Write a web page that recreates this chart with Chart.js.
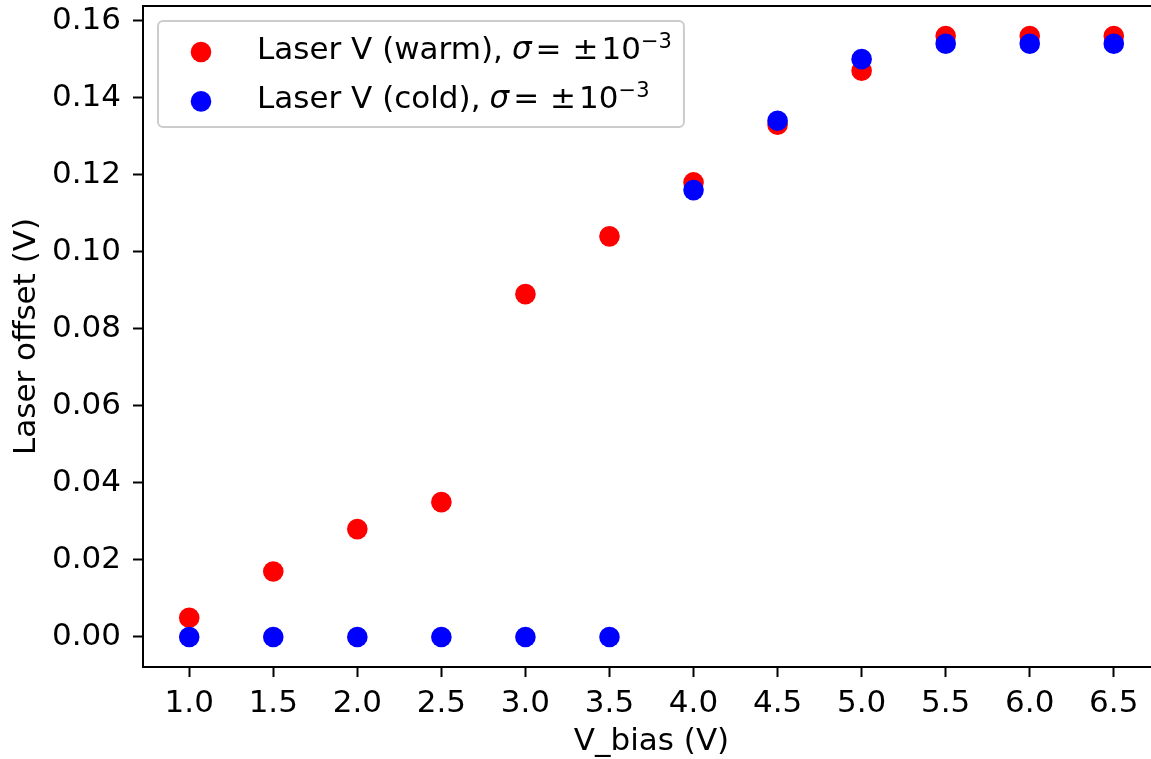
<!DOCTYPE html>
<html>
<head>
<meta charset="utf-8">
<script src="https://cdn.jsdelivr.net/npm/chart.js@4.4.1/dist/chart.umd.min.js"></script>
<style>
  html, body { margin: 0; padding: 0; background: #fff; overflow: hidden; }
  #wrap { position: relative; width: 1151px; height: 759px; overflow: hidden; }
  #chart { position: absolute; left: 0; top: 0; }
</style>
</head>
<body>
<div id="wrap"><canvas id="chart" width="1162" height="759"></canvas></div>
<script>
// Laser offset vs bias voltage, warm and cold runs
const biasVoltages = [1.0, 1.5, 2.0, 2.5, 3.0, 3.5, 4.0, 4.5, 5.0, 5.5, 6.0, 6.5];
const warmOffsets = [0.005, 0.017, 0.028, 0.035, 0.089, 0.104, 0.118, 0.133, 0.147, 0.156, 0.156, 0.156];
const coldOffsets = [0.000, 0.000, 0.000, 0.000, 0.000, 0.000, 0.116, 0.134, 0.150, 0.154, 0.154, 0.154];

const seriesLabels = ["Laser V (warm)", "Laser V (cold)"];
const seriesColors = ["#ff0000", "#0000ff"];
const sigmaExponent = "\u22123";

const xTicks = [1.0, 1.5, 2.0, 2.5, 3.0, 3.5, 4.0, 4.5, 5.0, 5.5, 6.0, 6.5];
const yTicks = [0.00, 0.02, 0.04, 0.06, 0.08, 0.10, 0.12, 0.14, 0.16];

const FONT = "DejaVu Sans";
const FONT_SIZE = 31;

// 5% margin around the data, like matplotlib's autoscale
function paddedRange(values) {
    const lo = Math.min(...values);
    const hi = Math.max(...values);
    const m = (hi - lo) * 0.05;
    return [lo - m, hi + m];
}
const [xMin, xMax] = paddedRange(biasVoltages);
const [yMin, yMax] = paddedRange(warmOffsets.concat(coldOffsets));

const toPoints = (ys) => biasVoltages.map((x, i) => ({ x, y: ys[i] }));

// labels sit well inside the range, so no extra room is needed at the ends
function clearPadding(scale) {
    scale.paddingTop = 0;
    scale.paddingBottom = 0;
    scale.paddingLeft = 0;
    scale.paddingRight = 0;
}

// top/right spines
const frame = {
    id: "frame",
    afterDatasetsDraw(chart) {
        const { ctx, chartArea: a } = chart;
        ctx.save();
        ctx.strokeStyle = "#000";
        ctx.lineWidth = 2;
        ctx.beginPath();
        ctx.moveTo(a.left, a.top);
        ctx.lineTo(a.right, a.top);
        ctx.lineTo(a.right, a.bottom);
        ctx.stroke();
        ctx.restore();
    }
};

// legend box with the sigma annotation
const sigmaLegend = {
    id: "sigmaLegend",
    afterDraw(chart) {
        const { ctx, chartArea: a } = chart;
        const left = a.left + 15;
        const top = a.top + 15;
        const rowGap = 49.4;
        const textX = left + 99;
        const normal = `${FONT_SIZE}px "${FONT}"`;
        const italic = `italic ${FONT_SIZE}px "${FONT}"`;
        const small = `${Math.round(FONT_SIZE * 0.67)}px "${FONT}"`;

        ctx.save();
        // lay out each row's pieces, then size the box to the widest
        const rows = seriesLabels.map((label) => {
            const parts = [];
            let x = 0;
            const add = (text, font, dy, gap) => {
                ctx.font = font;
                x += gap || 0;
                parts.push({ text, font, x, dy });
                x += ctx.measureText(text).width;
            };
            add(label + ",", normal, 0);
            add("\u03c3", italic, 0, 9);
            add("=", normal, 0, 4);
            add("\u00b1", normal, 0, 11);
            add("10", normal, 0, 3);
            add(sigmaExponent, small, -11, 0);
            return { parts, width: x };
        });
        const width = 99 + Math.max(...rows.map((r) => r.width)) + 12;
        const height = 106;

        ctx.beginPath();
        ctx.roundRect(left, top, width, height, 5);
        ctx.fillStyle = "rgba(255,255,255,0.8)";
        ctx.fill();
        ctx.strokeStyle = "#cccccc";
        ctx.lineWidth = 2;
        ctx.stroke();

        chart.data.datasets.forEach((ds, i) => {
            const cy = top + 31 + i * rowGap;
            ctx.beginPath();
            ctx.arc(left + 43, cy, 10.3, 0, Math.PI * 2);
            ctx.fillStyle = ds.backgroundColor;
            ctx.fill();

            ctx.fillStyle = "#000";
            ctx.textBaseline = "alphabetic";
            rows[i].parts.forEach((p) => {
                ctx.font = p.font;
                ctx.fillText(p.text, textX + p.x, cy + 7 + p.dy);
            });
        });
        ctx.restore();
    }
};

const tickFont = { family: FONT, size: FONT_SIZE };

new Chart(document.getElementById("chart"), {
    type: "scatter",
    data: {
        datasets: [
            {
                label: seriesLabels[0],
                data: toPoints(warmOffsets),
                backgroundColor: seriesColors[0],
                borderWidth: 0,
                pointRadius: 10.3,
                order: 1
            },
            {
                label: seriesLabels[1],
                data: toPoints(coldOffsets),
                backgroundColor: seriesColors[1],
                borderWidth: 0,
                pointRadius: 10.3,
                order: 0
            }
        ]
    },
    options: {
        responsive: false,
        animation: false,
        devicePixelRatio: 1,
        layout: { autoPadding: false, padding: { top: 6, right: 2, left: 0, bottom: 0 } },
        plugins: {
            legend: { display: false },
            tooltip: { enabled: false }
        },
        scales: {
            x: {
                type: "linear",
                min: xMin,
                max: xMax,
                afterBuildTicks: (scale) => { scale.ticks = xTicks.map((value) => ({ value })); },
                afterFit: (scale) => { scale.height = 92; clearPadding(scale); },
                ticks: {
                    font: tickFont,
                    color: "#000",
                    padding: 8,
                    maxRotation: 0,
                    autoSkip: false,
                    callback: (value) => Number(value).toFixed(1)
                },
                grid: {
                    drawOnChartArea: false,
                    drawTicks: true,
                    tickLength: 10,
                    tickWidth: 2,
                    tickColor: "#000"
                },
                border: { display: true, color: "#000", width: 2 },
                title: {
                    display: true,
                    text: "V_bias (V)",
                    font: tickFont,
                    color: "#000",
                    padding: { top: 0, bottom: -2 }
                }
            },
            y: {
                type: "linear",
                min: yMin,
                max: yMax,
                afterBuildTicks: (scale) => { scale.ticks = yTicks.map((value) => ({ value })); },
                afterFit: (scale) => { scale.width = 143; clearPadding(scale); },
                ticks: {
                    font: tickFont,
                    color: "#000",
                    padding: 12,
                    autoSkip: false,
                    callback: (value) => Number(value).toFixed(2)
                },
                grid: {
                    drawOnChartArea: false,
                    drawTicks: true,
                    tickLength: 10,
                    tickWidth: 2,
                    tickColor: "#000"
                },
                border: { display: true, color: "#000", width: 2 },
                title: {
                    display: true,
                    text: "Laser offset (V)",
                    font: tickFont,
                    color: "#000",
                    padding: { top: 8, bottom: 0 }
                }
            }
        }
    },
    plugins: [frame, sigmaLegend]
});
</script>
</body>
</html>
